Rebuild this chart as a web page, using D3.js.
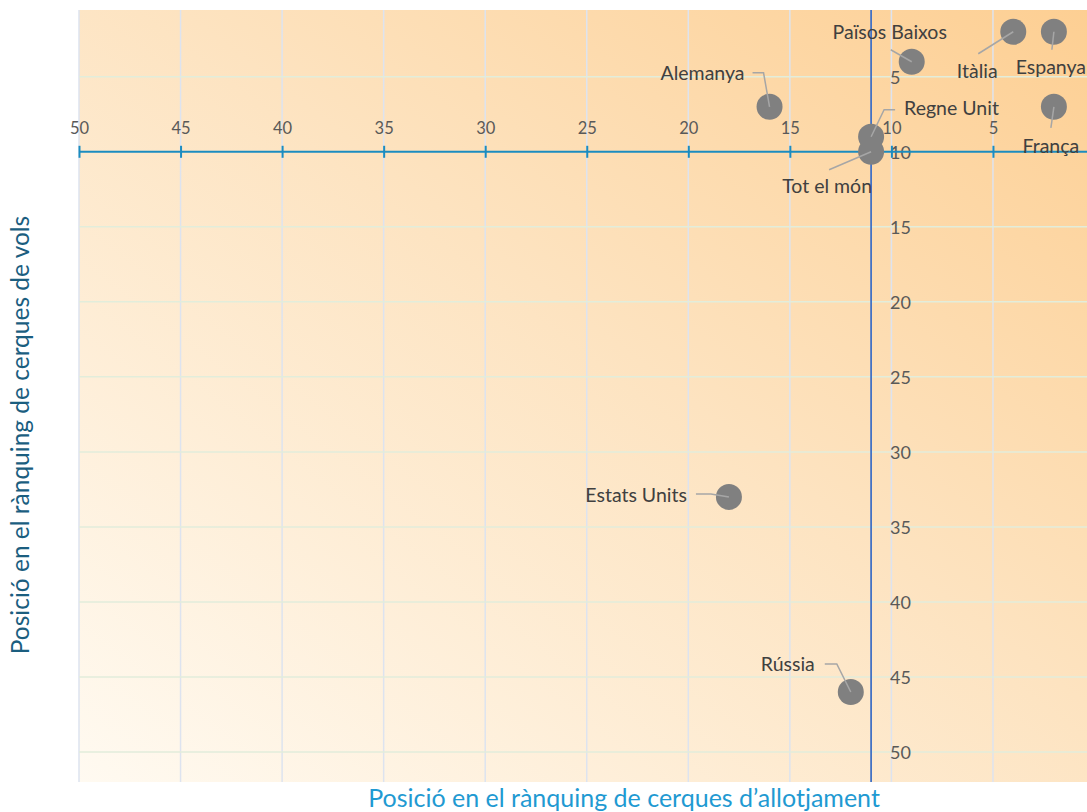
<!DOCTYPE html>
<html>
<head>
<meta charset="utf-8">
<script src="https://cdn.jsdelivr.net/npm/d3@7"></script>
<style>
  body { margin: 0; background: #fff; }
  svg { display: block; font-family: Lato, "Open Sans", sans-serif; }
</style>
</head>
<body>
<div id="wrapper"></div>
<script>
// data (rank in accommodation searches, rank in flight searches)
const countries = ["Espanya", "Itàlia", "Països Baixos", "Alemanya", "França", "Regne Unit", "Tot el món", "Estats Units", "Rússia"]
const hotelRank = [2, 4, 9, 16, 2, 11, 11, 18, 12]
const flightRank = [2, 2, 4, 7, 7, 9, 10, 33, 46]
const xTicks = [50, 45, 40, 35, 30, 25, 20, 15, 10, 5]
const yTicks = [5, 10, 15, 20, 25, 30, 35, 40, 45, 50]

// label placement (pixel offsets from the point)
const labelDx = [-3, -36, -22, -25, -3, 33, -44, -42, -36]
const labelDy = [42, 46, -23, -27, 46, -22, 41, 5, -21]
const labelAnchor = ["middle", "middle", "middle", "end", "middle", "start", "middle", "end", "end"]
const leaders = [
    [[0, 0], [-2, 18]],
    [[0, 0], [-35, 22]],
    [[0, 0], [-21, -12]],
    [[0, 0], [-6, -34], [-17, -34]],
    [[0, 0], [-3, 21]],
    [[0, 0], [13, -27], [24, -27]],
    [[0, 0], [-42, 18]],
    [[0, 0], [-18, -3], [-33, -3]],
    [[0, 0], [-14, -28], [-26, -28]]
]

const width = 1087
const height = 812
const plot = { left: 79, right: 1087, top: 10, bottom: 782 }

const svg = d3.select("#wrapper")
    .append("svg")
    .attr("width", width)
    .attr("height", height)

const defs = svg.append("defs")
const grad = defs.append("linearGradient")
    .attr("id", "bg")
    .attr("x1", "0%").attr("y1", "100%")
    .attr("x2", "100%").attr("y2", "0%")
grad.append("stop").attr("offset", "0%").attr("stop-color", "#fffaf1")
grad.append("stop").attr("offset", "55%").attr("stop-color", "#fde3c0")
grad.append("stop").attr("offset", "100%").attr("stop-color", "#fdcf93")

const xScale = d3.scaleLinear()
    .domain([50, 0.37])
    .range([plot.left, plot.right])

const yScale = d3.scaleLinear()
    .domain([0.55, 52])
    .range([plot.top, plot.bottom])

svg.append("rect")
    .attr("x", plot.left)
    .attr("y", plot.top)
    .attr("width", plot.right - plot.left)
    .attr("height", plot.bottom - plot.top)
    .attr("fill", "url(#bg)")

// gridlines
svg.append("g")
    .selectAll("line")
    .data(xTicks)
    .join("line")
    .attr("x1", d => xScale(d))
    .attr("x2", d => xScale(d))
    .attr("y1", plot.top)
    .attr("y2", plot.bottom)
    .attr("stroke", "#dde3ef")
    .attr("stroke-width", 1.5)

svg.append("g")
    .selectAll("line")
    .data(yTicks.filter(d => d !== 10))
    .join("line")
    .attr("x1", plot.left)
    .attr("x2", plot.right)
    .attr("y1", d => yScale(d))
    .attr("y2", d => yScale(d))
    .attr("stroke", "#e2eddb")
    .attr("stroke-width", 1.5)

// y axis (vertical line crossing at x = 11)
const yAxisX = xScale(11)
svg.append("line")
    .attr("x1", yAxisX).attr("x2", yAxisX)
    .attr("y1", plot.top).attr("y2", plot.bottom)
    .attr("stroke", "#4472c4")
    .attr("stroke-width", 1.8)

svg.append("g")
    .selectAll("text")
    .data(yTicks)
    .join("text")
    .attr("x", yAxisX + 19)
    .attr("y", d => yScale(d) + 7)
    .attr("fill", "#595959")
    .style("font-size", "18px")
    .text(d => d)

// x axis (horizontal line crossing at y = 10)
const xAxis = d3.axisTop(xScale)
    .tickValues(xTicks)
    .tickSizeInner(-12)
    .tickSizeOuter(0)
    .tickPadding(0)

const xAxisEl = svg.append("g")
    .attr("transform", `translate(0, ${yScale(10)})`)
    .call(xAxis)
xAxisEl.select(".domain")
    .attr("d", `M${plot.left},0H${plot.right}`)
    .attr("stroke", "#1b8cc0")
    .attr("stroke-width", 2)
xAxisEl.selectAll(".tick line")
    .attr("y1", -6)
    .attr("y2", 6)
    .attr("stroke", "#1b8cc0")
    .attr("stroke-width", 2)
xAxisEl.selectAll(".tick text")
    .attr("y", -18)
    .attr("fill", "#595959")
    .style("font-size", "16.5px")
    .style("font-family", "Lato, sans-serif")

// points
const nodes = countries.map((c, i) => ({
    name: c,
    cx: xScale(hotelRank[i]),
    cy: yScale(flightRank[i]),
    i: i
}))

svg.append("g")
    .selectAll("circle")
    .data(nodes)
    .join("circle")
    .attr("cx", d => d.cx)
    .attr("cy", d => d.cy)
    .attr("r", 13)
    .attr("fill", "#808080")

const line = d3.line()
svg.append("g")
    .selectAll("path")
    .data(nodes)
    .join("path")
    .attr("d", d => line(leaders[d.i].map(p => [d.cx + p[0], d.cy + p[1]])))
    .attr("fill", "none")
    .attr("stroke", "#a6a6a6")
    .attr("stroke-width", 1.5)

svg.append("g")
    .selectAll("text")
    .data(nodes)
    .join("text")
    .attr("x", d => d.cx + labelDx[d.i])
    .attr("y", d => d.cy + labelDy[d.i])
    .attr("text-anchor", d => labelAnchor[d.i])
    .attr("fill", "#404040")
    .style("font-size", "19.5px")
    .text(d => d.name)

// axis titles
svg.append("text")
    .attr("x", 624)
    .attr("y", 807)
    .attr("text-anchor", "middle")
    .attr("fill", "#1f9ad2")
    .style("font-size", "25px")
    .text("Posició en el rànquing de cerques d’allotjament")

svg.append("text")
    .attr("transform", "translate(29, 435) rotate(-90)")
    .attr("text-anchor", "middle")
    .attr("fill", "#1b5e7f")
    .style("font-size", "24.5px")
    .text("Posició en el rànquing de cerques de vols")
</script>
</body>
</html>
